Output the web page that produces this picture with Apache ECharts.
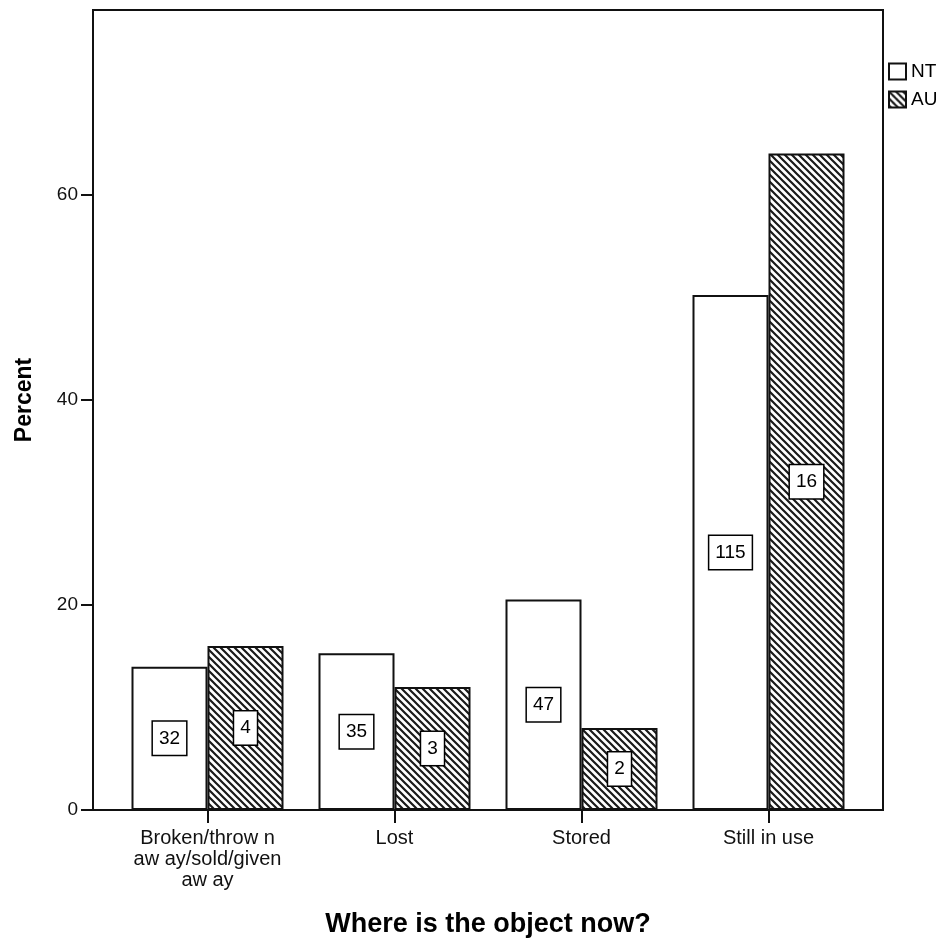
<!DOCTYPE html>
<html>
<head>
<meta charset="utf-8">
<script src="https://cdn.jsdelivr.net/npm/echarts@6/dist/echarts.min.js"></script>
<style>html,body{margin:0;padding:0;background:#fff}#c{width:947px;height:944px}</style>
</head>
<body>
<div id="c"></div>
<script>
const categories = ['Broken/throw n\naw ay/sold/given\naw ay', 'Lost', 'Stored', 'Still in use'];
const ntPercent = [13.97, 15.28, 20.52, 50.22];
const auPercent = [16, 12, 8, 64];
const ntCounts = [32, 35, 47, 115];
const auCounts = [4, 3, 2, 16];
const yTicks = [0, 20, 40, 60];

const FONT = '"Liberation Sans", Arial, sans-serif';

function hatch() {
  const p = 7;
  const c = document.createElement('canvas');
  c.width = p; c.height = p;
  const g = c.getContext('2d');
  g.fillStyle = '#fff';
  g.fillRect(0, 0, p, p);
  g.strokeStyle = '#1a1a1a';
  g.lineWidth = 2.2;
  g.beginPath();
  g.moveTo(-1, -1); g.lineTo(p + 1, p + 1);
  g.moveTo(p - 1, -1); g.lineTo(p + 1, 1);
  g.moveTo(-1, p - 1); g.lineTo(1, p + 1);
  g.stroke();
  return c;
}
const hatchPattern = { image: hatch(), repeat: 'repeat' };

const labelStyle = (counts) => ({
  show: true,
  position: 'inside',
  formatter: (p) => String(counts[p.dataIndex]),
  fontFamily: FONT,
  fontSize: 19,
  lineHeight: 20,
  color: '#000',
  backgroundColor: '#fff',
  borderColor: '#000',
  borderWidth: 1.5,
  padding: [7, 6, 6, 6]
});

const chart = echarts.init(document.getElementById('c'), null, { renderer: 'canvas' });
chart.setOption({
  animation: false,
  backgroundColor: '#fff',
  textStyle: { fontFamily: FONT },
  grid: [
    { left: 93, right: 64, top: 10, bottom: 134, show: true, borderColor: '#111', borderWidth: 2, backgroundColor: 'transparent' },
    { left: 114, right: 85, top: 10, bottom: 134 }
  ],
  legend: {
    left: 888, top: 62, orient: 'vertical', padding: 0,
    itemWidth: 17, itemHeight: 16, itemGap: 9,
    icon: 'rect',
    textStyle: { fontFamily: FONT, fontSize: 19, color: '#000', padding: [0, 0, 0, 0] },
    data: ['NT', 'AU']
  },
  xAxis: [
    {
      gridIndex: 0, type: 'value', min: 0, max: 1,
      axisLine: { show: false }, axisTick: { show: false }, axisLabel: { show: false }, splitLine: { show: false },
      name: 'Where is the object now?', nameLocation: 'middle', nameGap: 101,
      nameTextStyle: { fontFamily: FONT, fontSize: 27, fontWeight: 'bold', color: '#000' }
    },
    {
      gridIndex: 1, type: 'category', data: categories,
      axisLine: { show: false },
      axisTick: { show: true, alignWithLabel: true, length: 13, lineStyle: { color: '#111', width: 2 } },
      axisLabel: { fontFamily: FONT, fontSize: 20, lineHeight: 21, color: '#111', margin: 18, interval: 0 },
      splitLine: { show: false }
    }
  ],
  yAxis: [
    {
      gridIndex: 0, type: 'value', min: 0, max: 78,
      axisLine: { show: true, lineStyle: { color: '#111', width: 2 } },
      axisTick: { show: true, length: 12, lineStyle: { color: '#111', width: 2 }, customValues: yTicks },
      axisLabel: { fontFamily: FONT, fontSize: 19, color: '#111', margin: 15, customValues: yTicks },
      splitLine: { show: false },
      name: 'Percent', nameLocation: 'middle', nameGap: 57, nameRotate: 90,
      nameTextStyle: { fontFamily: FONT, fontSize: 23, fontWeight: 'bold', color: '#000', padding: [0, 0, 0, 20] }
    },
    {
      gridIndex: 1, type: 'value', min: 0, max: 78, show: false
    }
  ],
  series: [
    {
      name: 'NT', type: 'bar', xAxisIndex: 1, yAxisIndex: 1,
      data: ntPercent, barWidth: 76, barGap: '0%',
      itemStyle: { color: '#fff', borderColor: '#111', borderWidth: 2 },
      label: labelStyle(ntCounts)
    },
    {
      name: 'AU', type: 'bar', xAxisIndex: 1, yAxisIndex: 1,
      data: auPercent, barWidth: 76, barGap: '0%',
      itemStyle: { color: hatchPattern, borderColor: '#111', borderWidth: 2 },
      label: labelStyle(auCounts)
    }
  ]
});
</script>
</body>
</html>
